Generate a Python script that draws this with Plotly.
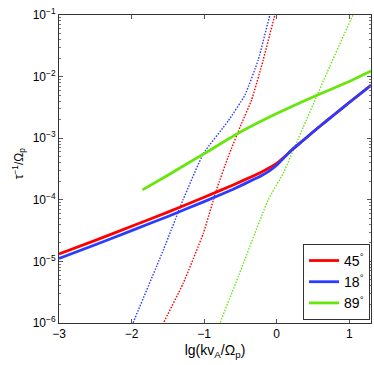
import plotly.graph_objects as go

# solid curves (x = lg(k vA / Omega_p), y = tau^-1 / Omega_p)
x_solid = [-3, -2.5, -2, -1.5, -1, -0.6, -0.3, -0.2, -0.1, 0.0, 0.1, 0.2, 0.3, 0.4,
           0.6, 0.8, 1.0, 1.3]
y_45 = [1.32e-5, 2.19e-5, 3.72e-5, 6.31e-5, 1.10e-4, 1.74e-4, 2.51e-4, 2.85e-4,
        3.31e-4, 3.89e-4, 4.90e-4, 6.31e-4, 7.94e-4, 1.00e-3,
        1.58e-3, 2.45e-3, 3.80e-3, 7.24e-3]
y_18 = [1.12e-5, 1.86e-5, 3.16e-5, 5.37e-5, 9.33e-5, 1.48e-4, 2.19e-4, 2.51e-4,
        2.95e-4, 3.63e-4, 4.79e-4, 6.31e-4, 7.94e-4, 1.00e-3,
        1.58e-3, 2.45e-3, 3.80e-3, 7.24e-3]

x_89 = [-1.85, -1.5, -1.0, -0.5, 0.0, 0.5, 1.0, 1.3]
y_89 = [1.45e-4, 2.51e-4, 5.62e-4, 1.26e-3, 2.51e-3, 4.68e-3, 8.32e-3, 1.23e-2]

# dotted curves
x_45_dot = [-1.62, -1.56, -1.29, -1.01, -0.83, -0.668, -0.484, -0.346, -0.186, -0.025, 0.0]
y_45_dot = [7.0e-7, 1.0e-6, 4.37e-6, 2.88e-5, 1.45e-4, 5.01e-4, 1.74e-3,
            4.17e-3, 1.86e-2, 1.0e-1, 1.3e-1]
x_18_dot = [-2.05, -1.98, -1.56, -1.29, -1.01, -0.668, -0.438, -0.255, -0.094, -0.07]
y_18_dot = [6.0e-7, 1.0e-6, 1.55e-5, 1.0e-4, 5.62e-4, 1.91e-3,
            5.01e-3, 1.86e-2, 1.0e-1, 1.3e-1]
x_89_dot = [-0.83, -0.78, -0.53, -0.117, 0.09, 0.37, 0.73, 1.05, 1.1]
y_89_dot = [6.0e-7, 1.0e-6, 5.62e-6, 1.0e-4, 2.69e-4, 1.55e-3, 1.45e-2, 1.0e-1, 1.4e-1]

x_ticks = [-3, -2, -1, 0, 1]
x_ticktext = ["\u22123", "\u22122", "\u22121", "0", "1"]
y_ticks = [1e-6, 1e-5, 1e-4, 1e-3, 1e-2, 1e-1]
y_ticktext = ["10<sup>\u22126</sup>", "10<sup>\u22125</sup>", "10<sup>\u22124</sup>",
              "10<sup>\u22123</sup>", "10<sup>\u22122</sup>", "10<sup>\u22121</sup>"]

red = "#ff0000"
blue = "#2a3cff"
green = "#66e60d"

fig = go.Figure()

# dotted ones first, so the solid lines sit on top
fig.add_trace(go.Scatter(x=x_18_dot, y=y_18_dot, mode="lines", showlegend=False,
                         line=dict(color=blue, width=1.4, dash="1.5px,1.5px", shape="spline", smoothing=0.4)))
fig.add_trace(go.Scatter(x=x_45_dot, y=y_45_dot, mode="lines", showlegend=False,
                         line=dict(color=red, width=1.4, dash="1.5px,1.5px", shape="spline", smoothing=0.4)))
fig.add_trace(go.Scatter(x=x_89_dot, y=y_89_dot, mode="lines", showlegend=False,
                         line=dict(color=green, width=1.4, dash="1.5px,1.5px", shape="spline", smoothing=0.4)))

fig.add_trace(go.Scatter(x=x_solid, y=y_45, mode="lines", name="45<sup>\u00b0</sup>",
                         line=dict(color=red, width=2.8, shape="spline", smoothing=0.3)))
fig.add_trace(go.Scatter(x=x_solid, y=y_18, mode="lines", name="18<sup>\u00b0</sup>",
                         line=dict(color=blue, width=2.8, shape="spline", smoothing=0.3)))
fig.add_trace(go.Scatter(x=x_89, y=y_89, mode="lines", name="89<sup>\u00b0</sup>",
                         line=dict(color=green, width=2.8, shape="spline", smoothing=0.6)))

minor_vals = [m * 10.0 ** e for e in range(-6, -1) for m in range(2, 10)]

fig.update_layout(
    width=374, height=365,
    margin=dict(l=59, r=3, t=15, b=42, autoexpand=False),
    paper_bgcolor="white", plot_bgcolor="white",
    font=dict(family="Liberation Sans, Arial, sans-serif", size=12, color="black"),
    showlegend=True,
    legend=dict(x=0.997, y=0.01, xanchor="right", yanchor="bottom",
                bgcolor="white", bordercolor="#333333", borderwidth=1,
                font=dict(size=14), itemwidth=30),
    hovermode=False,
)

# y title as a rotated annotation so it sits where the original has it
fig.add_annotation(
    text="\u03c4<sup>\u22121</sup>/\u03a9<sub>p</sub>",
    xref="paper", yref="paper", x=-0.13, y=0.52,
    xanchor="center", yanchor="middle", textangle=-90,
    showarrow=False, font=dict(size=12),
)

fig.update_xaxes(
    range=[-3, 1.3], tickvals=x_ticks, ticktext=x_ticktext,
    showline=True, linecolor="#333333", linewidth=1, mirror="allticks",
    ticks="inside", ticklen=4, tickcolor="#555555", showgrid=False, zeroline=False,
    ticklabeloverflow="allow",
    title=dict(text="lg(kv<sub>A</sub>/\u03a9<sub>p</sub>)", standoff=4),
)
fig.update_yaxes(
    type="log", range=[-6, -1], tickvals=y_ticks, ticktext=y_ticktext,
    showline=True, linecolor="#333333", linewidth=1, mirror="allticks",
    ticks="inside", ticklen=4, tickcolor="#555555", showgrid=False, zeroline=False,
    ticklabeloverflow="allow",
    minor=dict(tickvals=minor_vals, ticks="inside", ticklen=2, tickcolor="#777777"),
)

# drop the default 8px body margin so the figure fills the window
fig.write_html("out.html", config={"displayModeBar": False},
               post_script="document.body.style.margin='0';")
